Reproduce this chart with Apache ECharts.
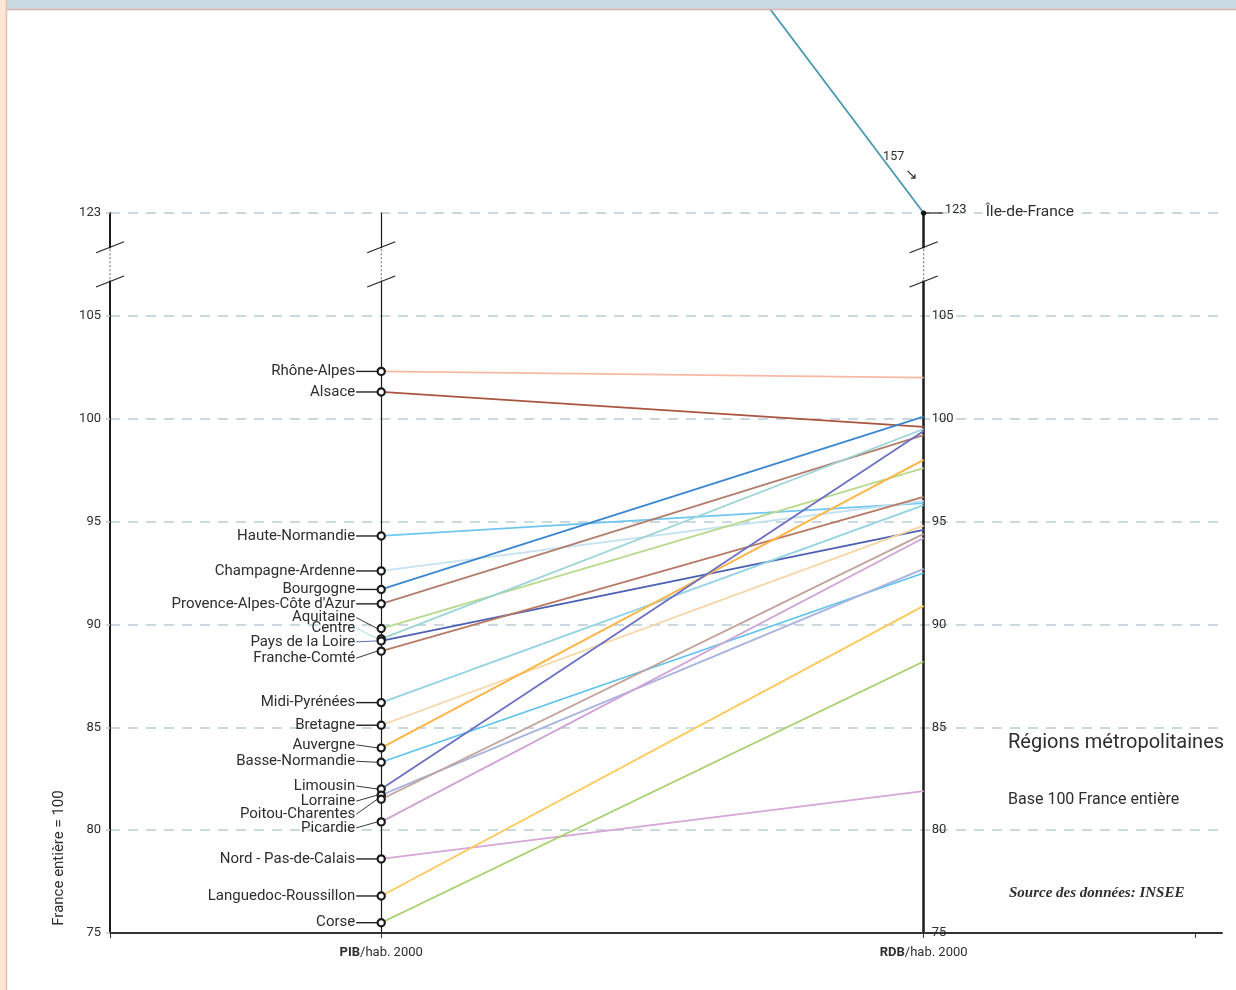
<!DOCTYPE html>
<html><head><meta charset="utf-8">
<script src="https://cdn.jsdelivr.net/npm/echarts@6/dist/echarts.min.js"></script>
<style>html,body{margin:0;padding:0;background:#fff}#c{width:1236px;height:990px}</style>
</head><body><div id="c"></div><script>
// ---------- data ----------
const regions = ['Île-de-France','Rhône-Alpes','Alsace','Haute-Normandie','Champagne-Ardenne','Bourgogne',"Provence-Alpes-Côte d'Azur",'Aquitaine','Centre','Pays de la Loire','Franche-Comté','Midi-Pyrénées','Bretagne','Auvergne','Basse-Normandie','Limousin','Lorraine','Poitou-Charentes','Picardie','Nord - Pas-de-Calais','Languedoc-Roussillon','Corse'];
const pibPerCapita2000 = [157,102.3,101.3,94.3,92.6,91.7,91.0,89.8,89.3,89.2,88.7,86.2,85.1,84.0,83.3,82.0,81.7,81.5,80.4,78.6,76.8,75.5];
const rdbPerCapita2000 = [123,102.0,99.6,95.9,96.0,100.1,99.2,97.6,99.5,94.6,96.2,95.8,94.8,98.0,92.5,99.4,92.7,94.4,94.2,81.9,90.9,88.2];
const yTickValues = [75,80,85,90,95,100,105,123];
const columnNames = ['PIB','RDB'];
const columnSuffix = '/hab. 2000';

// ---------- styles ----------
const colors = ['#4a9aad','#f7b9a3','#a9553f','#6fc6ee','#c6e2f2','#3b87cf','#b27d6c','#b9d98e','#9bd5d6','#4c5fb3','#b87a64','#93d3e3','#f6d6a6','#ffb444','#5ec2ef','#6b70c1','#a9b3df','#c1a39a','#d1a2d6','#d6a6d6','#ffc95a','#a7cf6c'];
const labelDy = [0,0,0,0,0,0,0,-11,-11,1,7,0,0,-3,-1,-3,6,15,6,0,0,0];
const colouredLeader = {8:true, 9:true};
const COL_X = [1, 3];      // positions of the two vertical axes on the x scale
const X_MAX = 4.1;
const BREAK_LOW = 105, BREAK_HIGH = 123;
const breakMarks = [117, 111];

// broken-axis scale: compress 105..123, linear again above 123
function scaleY(v){
  if (v <= BREAK_LOW) return v;
  if (v <= BREAK_HIGH) return BREAK_LOW + (v - BREAK_LOW) * 5 / (BREAK_HIGH - BREAK_LOW);
  return 110 + (v - BREAK_HIGH) * 1.03;
}
function tickLabel(v){
  const t = yTickValues.find(t => Math.abs(scaleY(t) - v) < 1e-6);
  return t === undefined ? '' : String(t);
}

const GRID = {left:110, right:14, top:213, bottom:57};
const W = 1236 - GRID.left - GRID.right;
const FONT = 'Roboto';
const TXT = '#2e2e2e';

const chart = echarts.init(document.getElementById('c'), null, {renderer:'canvas'});

const lineSeries = regions.map((r, i) => ({
  type:'line', name:r, silent:true, symbol:'none', z:2,
  clip: scaleY(pibPerCapita2000[i]) <= 110,
  data:[[COL_X[0], scaleY(pibPerCapita2000[i])],[COL_X[1], scaleY(rdbPerCapita2000[i])]],
  lineStyle:{color:colors[i], width:1.8},
  emphasis:{disabled:true}
}));

const pointData = [];
regions.forEach((r, i) => { if (scaleY(pibPerCapita2000[i]) <= 110) pointData.push([COL_X[0], scaleY(pibPerCapita2000[i]), i]); });

const pointSeries = {
  type:'custom', silent:true, z:5, clip:false,
  encode:{x:0, y:1},
  data: pointData,
  renderItem(params, api){
    const p = api.coord([api.value(0), api.value(1)]);
    const i = api.value(2);
    const dy = labelDy[i];
    return {type:'group', children:[
      {type:'line', shape:{x1:p[0]-25, y1:p[1]+dy, x2:p[0]-4, y2:p[1]},
       style:{stroke: colouredLeader[i] ? colors[i] : '#222', lineWidth: dy===0 ? 1.4 : 0.9}},
      {type:'circle', shape:{cx:p[0], cy:p[1], r:3.6},
       style:{fill:'#fff', stroke:'#1b1b1b', lineWidth:2.2}},
      {type:'text', x:p[0]-26, y:p[1]+dy,
       style:{text:regions[i], align:'right', verticalAlign:'middle', font:'15px '+FONT, fill:TXT}}
    ]};
  }
};

// Île-de-France end annotation
const idfIndex = 0;
const idfSeries = {
  type:'custom', silent:true, z:6, clip:false,
  encode:{x:0, y:1},
  data:[[COL_X[1], scaleY(rdbPerCapita2000[idfIndex]), idfIndex]],
  renderItem(params, api){
    const p = api.coord([api.value(0), api.value(1)]);
    const i = api.value(2);
    return {type:'group', children:[
      {type:'line', shape:{x1:p[0], y1:p[1], x2:p[0]+19, y2:p[1]}, style:{stroke:'#222', lineWidth:1.2}},
      {type:'circle', shape:{cx:p[0], cy:p[1], r:2.6}, style:{fill:'#111'}},
      {type:'text', x:p[0]+21, y:p[1]-3, style:{text:String(rdbPerCapita2000[i]), align:'left', verticalAlign:'middle', font:'13px '+FONT, fill:TXT}},
      {type:'text', x:p[0]+59, y:p[1]-1, style:{text:regions[i], align:'left', verticalAlign:'middle', font:'15.5px '+FONT, fill:TXT, backgroundColor:'#fff', padding:[0,3,0,3]}},
      {type:'text', x:p[0]-30, y:p[1]-56, style:{text:String(pibPerCapita2000[i]), align:'center', verticalAlign:'middle', font:'12.5px '+FONT, fill:TXT}},
      {type:'text', x:p[0]-12, y:p[1]-38, style:{text:'↘', align:'center', verticalAlign:'middle', font:'15px DejaVu Sans', fill:TXT}}
    ]};
  }
};

// axis break marks
const breakSeries = {
  type:'custom', silent:true, z:4, clip:false,
  encode:{x:0, y:1},
  data:[[0, scaleY(breakMarks[0]), scaleY(breakMarks[1])],[COL_X[0], scaleY(breakMarks[0]), scaleY(breakMarks[1])],[COL_X[1], scaleY(breakMarks[0]), scaleY(breakMarks[1])]],
  renderItem(params, api){
    const a = api.coord([api.value(0), api.value(1)]);
    const b = api.coord([api.value(0), api.value(2)]);
    const x = a[0];
    return {type:'group', children:[
      {type:'rect', shape:{x:x-3, y:a[1]+1, width:6, height:b[1]-a[1]-2}, style:{fill:'#fff'}},
      {type:'line', shape:{x1:x, y1:a[1]+2, x2:x, y2:b[1]-2}, style:{stroke:'#666', lineWidth:1, lineDash:[2,2]}},
      {type:'line', shape:{x1:x-14, y1:a[1]+5.5, x2:x+14, y2:a[1]-5.5}, style:{stroke:'#222', lineWidth:1.1}},
      {type:'line', shape:{x1:x-14, y1:b[1]+5.5, x2:x+14, y2:b[1]-5.5}, style:{stroke:'#222', lineWidth:1.1}}
    ]};
  }
};

const yCommon = {type:'value', min:75, max:110, interval:5, splitLine:{show:false}, axisTick:{show:false}, axisLabel:{show:false}};

const option = {
  animation:false,
  textStyle:{fontFamily:FONT},
  grid:GRID,
  xAxis:{
    type:'value', min:0, max:X_MAX, splitLine:{show:false},
    axisLine:{show:true, lineStyle:{color:'#333', width:2}},
    axisTick:{show:true, customValues:[0, COL_X[0], COL_X[1], 4], length:5, lineStyle:{color:'#333', width:1}},
    axisLabel:{customValues:COL_X, margin:13, fontSize:13, color:TXT,
      formatter:v => '{b|' + columnNames[COL_X.indexOf(v)] + '}' + columnSuffix,
      rich:{b:{fontWeight:'bold', fontSize:13, color:TXT}}}
  },
  yAxis:[
    Object.assign({}, yCommon, {position:'left',
      axisLine:{show:true, lineStyle:{color:'#1b1b1b', width:2}},
      axisTick:{show:true, length:4, lineStyle:{color:'#b9cbd6', width:1.5}},
      axisLabel:{show:true, formatter:tickLabel, fontSize:13, color:TXT, margin:9},
      splitLine:{show:true, lineStyle:{color:'#b9cbd6', width:1.5, type:[10,8]}}
    }),
    Object.assign({}, yCommon, {position:'left', offset:-(W*COL_X[0]/X_MAX),
      axisLine:{show:true, lineStyle:{color:'#1b1b1b', width:1.2}}
    }),
    Object.assign({}, yCommon, {position:'right', offset:-(W*(X_MAX-COL_X[1])/X_MAX),
      axisLine:{show:true, lineStyle:{color:'#1b1b1b', width:2.5}},
      axisLabel:{show:true, formatter:v => (v > BREAK_LOW ? '' : tickLabel(v)), fontSize:13, color:TXT, margin:8}
    })
  ],
  series:[...lineSeries, breakSeries, pointSeries, idfSeries],
  graphic:[
    {type:'rect', z:100, shape:{x:0, y:0, width:1236, height:9}, style:{fill:'#c9d9e1'}},
    {type:'line', z:100, shape:{x1:7, y1:9.5, x2:1236, y2:9.5}, style:{stroke:'#dcb2b2', lineWidth:1.5}},
    {type:'rect', z:101, shape:{x:0, y:0, width:6, height:990}, style:{fill:'#fde6d6'}},
    {type:'line', z:101, shape:{x1:6.5, y1:0, x2:6.5, y2:990}, style:{stroke:'#e6bfae', lineWidth:1.5}},
    {type:'text', z:100, x:59, y:858, rotation:Math.PI/2, style:{text:'France entière = 100', align:'center', verticalAlign:'middle', font:'15px '+FONT, fill:TXT}},
    {type:'text', z:100, x:1008, y:743, style:{text:'Régions métropolitaines', align:'left', verticalAlign:'middle', font:'20px '+FONT, fill:TXT}},
    {type:'text', z:100, x:1008, y:800, style:{text:'Base 100 France entière', align:'left', verticalAlign:'middle', font:'16px '+FONT, fill:TXT}},
    {type:'text', z:100, x:1009, y:893, style:{text:'Source des données: INSEE', align:'left', verticalAlign:'middle', font:'italic bold 15px "Liberation Serif"', fill:TXT}}
  ]
};
chart.setOption(option);
</script></body></html>
